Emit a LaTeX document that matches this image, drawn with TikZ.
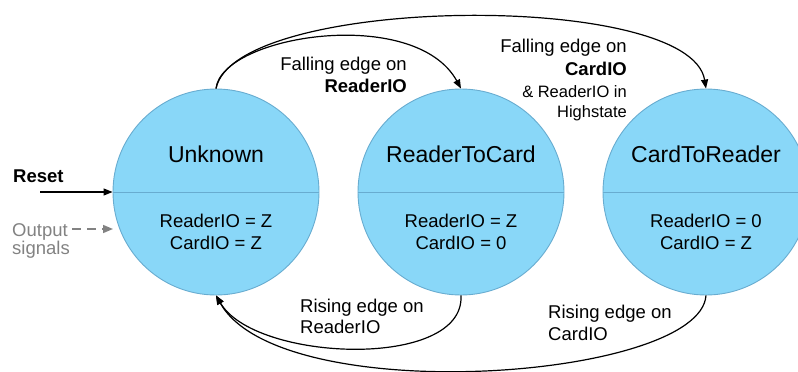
\documentclass[tikz,border=0pt]{standalone}
\usepackage{fontspec}
\setmainfont{Liberation Sans}
\usetikzlibrary{arrows.meta}
\definecolor{statefill}{RGB}{137,215,248}
\definecolor{stateline}{RGB}{104,172,208}
\definecolor{notegray}{RGB}{130,130,130}
\tikzset{
  statecircle/.style={circle, draw=stateline, line width=0.9pt, fill=statefill, minimum size=206pt, inner sep=0pt},
  divider/.style={draw=stateline, line width=0.9pt},
  statename/.style={font=\fontsize{23}{26}\selectfont, anchor=base},
  stateout/.style={font=\fontsize{18.5}{22}\selectfont, anchor=base},
  cond/.style={font=\fontsize{18.5}{22}\selectfont, inner sep=0pt},
  condsmall/.style={font=\fontsize{16.5}{20}\selectfont, inner sep=0pt},
  trans/.style={draw, line width=1.2pt, -{Triangle[length=9pt,width=7pt]}},
}
\begin{document}
\begin{tikzpicture}[x=1pt, y=-1pt]
\useasboundingbox (0,0) rectangle (798,372);

% states
\node[statecircle] (u) at (216,192) {};
\node[statecircle] (r) at (461,192) {};
\node[statecircle] (c) at (706,192) {};
\draw[divider] (u.west) -- (u.east);
\draw[divider] (r.west) -- (r.east);
\draw[divider] (c.west) -- (c.east);

\node[statename] (uname) at (216,162) {Unknown};
\node[statename] (rname) at (461,162) {ReaderToCard};
\node[statename] (cname) at (706,162) {CardToReader};

\node[stateout] (uout1) at (216,227) {ReaderIO = Z};
\node[stateout] (uout2) at (216,249) {CardIO = Z};
\node[stateout] (rout1) at (461,227) {ReaderIO = Z};
\node[stateout] (rout2) at (461,249) {CardIO = 0};
\node[stateout] (cout1) at (706,227) {ReaderIO = 0};
\node[stateout] (cout2) at (706,249) {CardIO = Z};

% reset entry and output legend
\node[cond, anchor=base west, font=\fontsize{18.5}{22}\selectfont\bfseries] (reset) at (13,182) {Reset};
\coordinate (resetstart) at (40,192);
\draw[trans] (resetstart) -- (u.west);
\node[cond, anchor=base west, text=notegray] (outlbl) at (12,236) {Output};
\node[cond, anchor=base west, text=notegray] (siglbl) at (12,254) {signals};
\coordinate (outstart) at (72,229);
\coordinate (outend) at (113,229);
\draw[line width=1.6pt, notegray, dash pattern=on 9pt off 6pt, -{Triangle[length=10pt,width=8pt]}] (outstart) -- (outend);

% transitions
\draw[trans] (u.north) .. controls (222,35) and (415,5) .. (r.north);
\draw[trans] (u.north) .. controls (235,-5) and (690,-10) .. (c.north);
\draw[trans] (r.south) .. controls (465,370) and (255,362) .. (u.south);
\draw[trans] (c.south) .. controls (700,380) and (280,410) .. (u.south);

% transition labels
\node[cond, anchor=base east] (t1a) at (407,70) {Falling edge on};
\node[cond, anchor=base east, font=\fontsize{18.5}{22}\selectfont\bfseries] (t1b) at (407,92) {ReaderIO};

\node[cond, anchor=base east] (t2a) at (627,52) {Falling edge on};
\node[cond, anchor=base east, font=\fontsize{18.5}{22}\selectfont\bfseries] (t2b) at (627,75) {CardIO};
\node[condsmall, anchor=base east] (t2c) at (627,97) {\& ReaderIO in};
\node[condsmall, anchor=base east] (t2d) at (627,117) {Highstate};

\node[cond, anchor=base west] (t3a) at (300,312) {Rising edge on};
\node[cond, anchor=base west] (t3b) at (300,333) {ReaderIO};

\node[cond, anchor=base west] (t4a) at (548,318) {Rising edge on};
\node[cond, anchor=base west] (t4b) at (548,340) {CardIO};
\end{tikzpicture}
\end{document}
